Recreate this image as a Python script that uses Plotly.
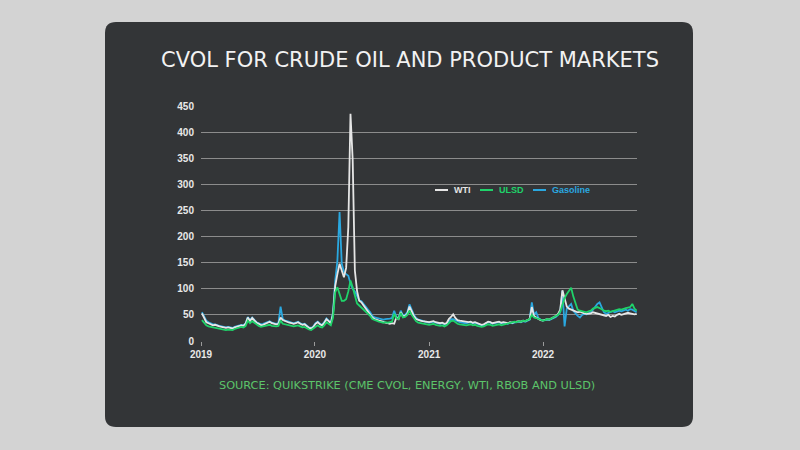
import pandas as pd
import plotly.graph_objects as go

# weekly observation dates (Fridays), Jan 2019 - Oct 2022
dates = pd.date_range("2019-01-04", periods=200, freq="7D")

wti = [
    # 2019
    53, 44, 36, 34,  32, 30, 31, 29,  28, 27, 26, 25, 26,  25, 24, 26, 27,
    28, 30, 29, 33, 45,  38, 44, 40, 35,  33, 30, 31, 33,  35, 37, 34, 33, 32,
    33, 45, 40, 38,  36, 35, 34, 33,  34, 36, 33, 31, 32,  28, 25, 24, 27,
    # 2020
    33, 36, 32, 30, 35,  42, 38, 34, 52,  105, 128, 148, 135,  122, 140, 218, 435,
    347, 135, 96, 77, 74,  68, 62, 58, 52,  45, 42, 40, 39, 38,  36, 35, 34, 33,
    34, 33, 45, 42,  55, 47, 48, 52, 66,  55, 48, 42, 40,  39, 38, 37, 36,
    # 2021
    36, 37, 38, 36, 35,  34, 35, 33, 34,  42, 46, 51, 44,  40, 39, 38, 37, 36,
    36, 37, 35, 36,  34, 33, 31, 32,  35, 37, 36, 34, 35,  36, 37, 35, 36,
    35, 34, 36, 35,  36, 37, 38, 37, 39,  38, 40, 42, 65,  48, 45, 42, 40, 39,
    # 2022
    40, 42, 41, 43,  45, 48, 52, 60,  97, 83, 66, 62,  60, 58, 57, 55, 56,
    54, 53, 52, 52,  53, 55, 54, 52,  52, 50, 49, 48, 50,  46, 48, 47, 50,
    52, 50, 51, 52, 54,  53, 52, 51, 52,
]

gasoline = [
    # 2019
    55, 46, 39, 36,  34, 32, 32, 30,  29, 28, 27, 26, 27,  26, 25, 27, 28,
    29, 31, 30, 34, 46,  40, 45, 41, 36,  34, 32, 33, 35,  36, 38, 35, 34, 33,
    34, 66, 42, 39,  38, 36, 35, 34,  35, 37, 34, 32, 33,  29, 26, 25, 28,
    # 2020
    34, 37, 33, 31, 36,  43, 39, 35, 55,  115, 154, 247, 148,  132, 128, 125, 110,
    100, 95, 85, 78, 76,  70, 64, 60, 55,  48, 45, 44, 43, 42,  41, 42, 42, 43,
    44, 58, 46, 44,  58, 49, 50, 55, 70,  58, 50, 44, 41,  40, 38, 37, 36,
    # 2021
    35, 36, 37, 35, 34,  33, 34, 32, 33,  38, 42, 42, 40,  37, 36, 35, 34, 34,
    35, 36, 34, 35,  33, 32, 30, 31,  34, 36, 35, 33, 34,  35, 36, 34, 35,
    34, 33, 35, 34,  35, 36, 37, 36, 38,  37, 39, 41, 74,  50, 55, 44, 41, 39,
    # 2022
    40, 41, 40, 42,  44, 46, 50, 55,  96, 28, 62, 66,  71, 58, 52, 48, 45,
    50, 52, 51, 53,  55, 60, 66, 71,  74, 64, 55, 52, 54,  56, 57, 55, 56,
    58, 57, 59, 60, 58,  61, 60, 57, 55,
]

ulsd = [
    # 2019
    40, 34, 30, 28,  27, 26, 25, 25,  24, 23, 22, 21, 22,  22, 21, 23, 24,
    25, 27, 26, 29, 39,  34, 38, 35, 31,  29, 27, 28, 29,  30, 31, 29, 28, 28,
    29, 39, 33, 32,  31, 30, 29, 28,  29, 30, 28, 26, 27,  24, 22, 21, 24,
    # 2020
    28, 30, 27, 26, 30,  36, 33, 30, 45,  93, 103, 90, 77,  77, 80, 95, 116,
    103, 85, 72, 68, 64,  60, 56, 52, 48,  42, 40, 38, 37, 36,  35, 36, 35, 36,
    37, 52, 44, 42,  54, 45, 46, 50, 58,  50, 44, 38, 35,  34, 33, 32, 31,
    # 2021
    31, 32, 33, 31, 30,  29, 30, 28, 30,  34, 38, 39, 36,  33, 32, 31, 30, 30,
    31, 32, 30, 31,  29, 28, 27, 28,  30, 32, 31, 29, 30,  31, 32, 30, 31,
    33, 34, 35, 36,  37, 36, 38, 37, 39,  38, 40, 42, 50,  45, 44, 42, 40, 39,
    # 2022
    40, 42, 41, 43,  45, 47, 50, 56,  70, 82, 90, 96,  102, 85, 70, 60, 58,
    57, 56, 55, 57,  58, 62, 64, 65,  63, 60, 58, 57, 58,  56, 57, 58, 60,
    61, 60, 62, 63, 64,  65, 71, 62, 58,
]

series_names = ["WTI", "ULSD", "Gasoline"]
series_colors = {"WTI": "#e6e6e6", "ULSD": "#1fd36a", "Gasoline": "#2aa8e0"}
series_values = {"WTI": wti, "ULSD": ulsd, "Gasoline": gasoline}

year_ticks = ["2019-01-01", "2020-01-01", "2021-01-01", "2022-01-01"]
year_labels = ["2019", "2020", "2021", "2022"]

title_text = "CVOL FOR CRUDE OIL AND PRODUCT MARKETS"
source_text = "SOURCE: QUIKSTRIKE (CME CVOL, ENERGY, WTI, RBOB AND ULSD)"

# plot-area geometry (pixels)
W, H = 800, 450
L, R, T, B = 201, 637, 106, 341
pw, ph = R - L, B - T


def px(x):
    return (x - L) / pw


def py(y):
    return (B - y) / ph


fig = go.Figure()

draw_order = ["Gasoline", "WTI", "ULSD"]
for name in draw_order:
    fig.add_trace(go.Scatter(
        x=dates, y=series_values[name], mode="lines", name=name,
        line=dict(color=series_colors[name], width=1.8),
        showlegend=False, hoverinfo="skip",
    ))

# dark rounded panel
x0, x1, y0, y1 = px(105), px(693), py(427), py(22)
rx, ry = 11 / pw, 11 / ph
path = (f"M {x0+rx},{y1} L {x1-rx},{y1} Q {x1},{y1} {x1},{y1-ry} "
        f"L {x1},{y0+ry} Q {x1},{y0} {x1-rx},{y0} "
        f"L {x0+rx},{y0} Q {x0},{y0} {x0},{y0+ry} "
        f"L {x0},{y1-ry} Q {x0},{y1} {x0+rx},{y1} Z")
fig.add_shape(type="path", path=path, xref="paper", yref="paper",
              fillcolor="#333537", line=dict(width=0), layer="below")

fig.add_annotation(text=title_text, xref="paper", yref="paper",
                   x=px(410), y=py(60), showarrow=False,
                   xanchor="center", yanchor="middle",
                   font=dict(family="DejaVu Sans", size=21, color="#f2f2f2"))

fig.add_annotation(text=source_text, xref="paper", yref="paper",
                   x=px(407), y=py(385), showarrow=False,
                   xanchor="center", yanchor="middle",
                   font=dict(family="DejaVu Sans", size=11.3, color="#5cc46a"))

# compact legend: short line sample + coloured label
legend_pos = {"WTI": (435, 452), "ULSD": (480, 497), "Gasoline": (533, 550)}
ly = py(190)
for name in series_names:
    lx0, tx = legend_pos[name]
    fig.add_shape(type="line", xref="paper", yref="paper",
                  x0=px(lx0), x1=px(lx0 + 13), y0=ly, y1=ly,
                  line=dict(color=series_colors[name], width=2))
    fig.add_annotation(text=f"<b>{name}</b>", xref="paper", yref="paper",
                       x=px(tx), y=ly, showarrow=False, xanchor="left", yanchor="middle",
                       font=dict(family="Liberation Sans", size=9, color=series_colors[name]))

fig.update_layout(
    width=W, height=H,
    margin=dict(l=L, r=W - R, t=T, b=H - B),
    paper_bgcolor="#d3d3d3",
    plot_bgcolor="rgba(0,0,0,0)",
    showlegend=False,
    xaxis=dict(range=["2019-01-01", "2022-10-29"], tickvals=year_ticks, ticktext=year_labels,
               showgrid=False, zeroline=False, showline=False,
               ticks="outside", ticklen=4, tickcolor="#9a9a9a",
               tickfont=dict(family="Liberation Sans", size=10, color="#e8e8e8", weight="bold")),
    yaxis=dict(range=[0, 450], dtick=50, showgrid=True, gridcolor="#8c8c8c", gridwidth=1,
               zeroline=False, showline=False, ticks="", ticklabelstandoff=6,
               tickfont=dict(family="Liberation Sans", size=10, color="#e8e8e8", weight="bold")),
)

fig.write_html("out.html", config={"displayModeBar": False},
               post_script="document.body.style.margin='0';")
